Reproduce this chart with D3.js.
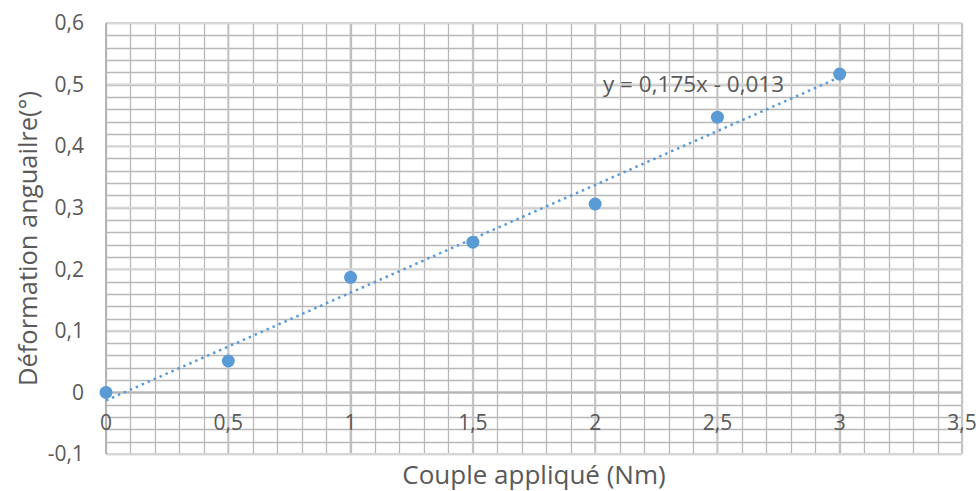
<!DOCTYPE html>
<html><head><meta charset="utf-8">
<script src="https://cdn.jsdelivr.net/npm/d3@7"></script>
<style>body{margin:0;background:#fff}svg{display:block;font-family:"Open Sans","Noto Sans",sans-serif}</style>
</head><body><svg id="c" width="980" height="491"></svg>
<script>
const xValues = [0, 0.5, 1, 1.5, 2, 2.5, 3];
const yValues = [0, 0.051, 0.187, 0.244, 0.306, 0.447, 0.517];
const xTicks = [0, 0.5, 1, 1.5, 2, 2.5, 3, 3.5];
const yTicks = [-0.1, 0, 0.1, 0.2, 0.3, 0.4, 0.5, 0.6];
const trendSlope = 0.175, trendIntercept = -0.013;
const trendLabel = "y = 0,175x - 0,013";
const xTitle = "Couple appliqué (Nm)";
const yTitle = "Déformation anguailre(°)";

const svg = d3.select("#c");
const L = 106, R = 962, T = 23, B = 454;
const x = d3.scaleLinear().domain([0, 3.5]).range([L, R]);
const y = d3.scaleLinear().domain([-0.1, 0.6]).range([B, T]);
const fmt = v => String(+v.toFixed(2)).replace(".", ",");

const g = svg.append("g");
// minor grid
const xMinor = d3.range(0, 36).map(i => i / 10);
const yMinor = d3.range(-5, 31).map(i => i / 50);
g.selectAll(".vm").data(xMinor).join("line")
  .attr("x1", d => Math.round(x(d)) + 0.5).attr("x2", d => Math.round(x(d)) + 0.5)
  .attr("y1", T).attr("y2", B).attr("stroke", "#b8b8b8").attr("stroke-width", 1.3);
g.selectAll(".hm").data(yMinor).join("line")
  .attr("y1", d => Math.round(y(d)) + 0.5).attr("y2", d => Math.round(y(d)) + 0.5)
  .attr("x1", L).attr("x2", R).attr("stroke", "#b8b8b8").attr("stroke-width", 1.3);
// major grid
g.selectAll(".vM").data(xTicks).join("line")
  .attr("x1", d => x(d)).attr("x2", d => x(d))
  .attr("y1", T).attr("y2", B).attr("stroke", "#c4c4c4").attr("stroke-width", 2);
g.selectAll(".hM").data(yTicks).join("line")
  .attr("y1", d => y(d)).attr("y2", d => y(d))
  .attr("x1", L).attr("x2", R).attr("stroke", "#d6d6d6").attr("stroke-width", 2);
// axis lines
g.append("line").attr("x1", L).attr("x2", R).attr("y1", y(0)).attr("y2", y(0))
  .attr("stroke", "#b4b4b4").attr("stroke-width", 2);
g.append("line").attr("x1", x(0)).attr("x2", x(0)).attr("y1", T).attr("y2", B)
  .attr("stroke", "#b4b4b4").attr("stroke-width", 2);

// tick labels
svg.append("g").selectAll("text").data(yTicks).join("text")
  .attr("x", 84).attr("y", d => y(d)).attr("dy", "0.35em").attr("text-anchor", "end")
  .attr("font-size", 21).attr("fill", "#595959").text(fmt);
svg.append("g").selectAll("text").data(xTicks).join("text")
  .attr("x", d => x(d)).attr("y", y(0) + 38).attr("text-anchor", "middle")
  .attr("font-size", 21).attr("fill", "#595959").text(fmt);

// trendline
svg.append("line")
  .attr("x1", x(0)).attr("y1", y(trendIntercept))
  .attr("x2", x(3)).attr("y2", y(trendSlope * 3 + trendIntercept))
  .attr("stroke", "#5b9bd5").attr("stroke-width", 2.5)
  .attr("stroke-dasharray", "2.5,4").attr("stroke-linecap", "butt");

// points
svg.append("g").selectAll("circle").data(xValues.map((v, i) => [v, yValues[i]])).join("circle")
  .attr("cx", d => x(d[0])).attr("cy", d => y(d[1])).attr("r", 6.5).attr("fill", "#5b9bd5");

// trend label
svg.append("text").attr("x", 603).attr("y", 92).attr("font-size", 22.5).attr("fill", "#595959").text(trendLabel);

// titles
svg.append("text").attr("x", (L + R) / 2).attr("y", 484).attr("text-anchor", "middle")
  .attr("font-size", 26).attr("fill", "#595959").text(xTitle);
svg.append("text").attr("transform", `translate(37,${(T + B) / 2}) rotate(-90)`)
  .attr("text-anchor", "middle").attr("font-size", 25.5).attr("fill", "#595959").text(yTitle);
</script></body></html>
